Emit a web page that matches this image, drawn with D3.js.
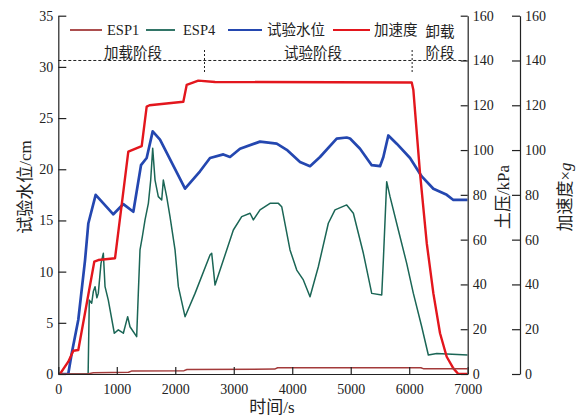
<!DOCTYPE html>
<html>
<head>
<meta charset="utf-8">
<script src="https://cdn.jsdelivr.net/npm/d3@7"></script>
<style>
  body { margin: 0; background: #fff; }
  svg text { font-family: "Liberation Serif", "Noto Sans CJK SC", serif; fill: #222; }
  .axis path, .axis line { stroke: #222; stroke-width: 1.2; }
  .axis text { font-size: 14px; }
</style>
</head>
<body>
<div id="chart"></div>
<script>
// values, [time s, value]
var esp1 = [[0,0],[500,0],[600,0.6],[1200,0.8],[1250,1.3],[2150,1.5],[2200,2.0],[3700,2.2],[3750,2.8],[6200,2.8],[6250,2.3],[7000,2.3]];

var esp4 = [[0,0],[510,0],[530,33],[571,31.6],[600,37],[628,39],[660,34],[684,36],[730,49.4],[770,53.9],[799,39],[855,33],
  [958,18.2],[1026,19.7],[1112,18.2],[1186,25.6],[1226,21.1],[1340,16.7],[1368,36],[1397,55.4],[1437,61.3],[1483,68.8],
  [1540,76.2],[1580,86.6],[1614,100.8],[1654,86.6],[1710,79.2],[1768,77.7],[1796,86.6],[1853,79.2],[1910,70.3],[1996,55.4],
  [2053,39],[2167,25.6],[2338,36],
  [2594,53.1],[2623,53.9],[2680,39.7],[2993,64.3],[3136,70.3],[3279,71.8],[3335,68.8],[3449,73.3],[3620,76.2],[3763,76.2],
  [3820,74.7],[3962,55.4],[4077,46.4],[4190,42],[4304,34.5],[4446,47.9],[4617,67.3],[4731,73.3],[4931,75.5],[5045,71.8],
  [5216,53.9],[5359,36],[5530,35.3],[5558,50.9],[5615,85.9],[5672,79.2],[5814,64.3],[5957,49.4],[6071,36],[6214,21.1],
  [6327,8.5],[6471,9.2],[7000,8.5]];

var waterLevel = [[0,0],[170,0],[229,2.0],[342,5.3],[457,11.1],[513,14.7],[639,17.5],[941,15.6],[1112,16.6],[1283,15.85],
  [1414,20.4],[1511,21.1],[1614,23.7],[1739,22.9],[2167,18.1],[2423,19.8],[2594,21.1],[2822,21.45],[2936,21.2],[3107,22.0],
  [3449,22.7],[3735,22.5],[3906,21.9],[4133,20.7],[4304,20.3],[4475,21.2],[4760,23.0],[4931,23.1],[4988,23.0],[5159,22.0],
  [5359,20.4],[5501,20.3],[5558,21.2],[5643,23.3],[5786,22.5],[6014,21.1],[6214,19.3],[6413,18.1],[6642,17.5],[6755,17.0],[7000,17.0]];

var accel = [[0,0],[29,0],[171,5.5],[257,10.4],[342,10.7],[616,50.2],[684,50.9],[970,51.7],[1197,99.3],[1426,101.8],
  [1511,119.4],[1560,120],[2138,121.6],[2195,129.1],[2394,131],[2680,130.4],[6043,130.2],[6071,126.8],[6185,89.6],
  [6300,58.4],[6413,36],[6527,18.2],[6641,7.7],[6755,2.5],[6840,0],[7000,0]];

var timeTicks = [0,1000,2000,3000,4000,5000,6000,7000];
var waterTicks = [0,5,10,15,20,25,30,35];
var kpaTicks = [0,20,40,60,80,100,120,140,160];

var legendItems = [
  { name: "ESP1", color: "#a33a3a" },
  { name: "ESP4", color: "#1b6656" },
  { name: "试验水位", color: "#2447b0" },
  { name: "加速度", color: "#e3161d" }
];

var width = 583, height = 418;
var plotL = 58.3, plotR = 467.7, plotT = 15.7, plotB = 374;

var svg = d3.select("#chart").append("svg")
    .attr("width", width)
    .attr("height", height);

var x = d3.scaleLinear().domain([0, 7000]).range([plotL, plotR]);
var yWater = d3.scaleLinear().domain([0, 35]).range([plotB, plotT]);
var yKpa = d3.scaleLinear().domain([0, 160]).range([plotB, plotT]);
var yAcc = d3.scaleLinear().domain([0, 160]).range([plotB, plotT]);

svg.append("clipPath").attr("id", "plot")
  .append("rect").attr("x", plotL).attr("y", plotT).attr("width", plotR - plotL).attr("height", plotB - plotT);

function drawLine(data, yScale, color, w) {
  svg.append("path")
      .datum(data)
      .attr("clip-path", "url(#plot)")
      .attr("fill", "none")
      .attr("stroke", color)
      .attr("stroke-width", w)
      .attr("stroke-linejoin", "round")
      .attr("d", d3.line().x(function(d) { return x(d[0]); }).y(function(d) { return yScale(d[1]); }));
}

drawLine(esp4, yKpa, legendItems[1].color, 1.5);
drawLine(waterLevel, yWater, legendItems[2].color, 2.7);
drawLine(accel, yAcc, legendItems[3].color, 2.4);
drawLine(esp1, yKpa, legendItems[0].color, 1.5);

// stage separators
svg.append("line")
    .attr("x1", plotL).attr("x2", plotR)
    .attr("y1", yKpa(140)).attr("y2", yKpa(140))
    .attr("stroke", "#222").attr("stroke-dasharray", "3,2");
[2500, 6050].forEach(function(t) {
  svg.append("line")
      .attr("x1", x(t)).attr("x2", x(t))
      .attr("y1", 50).attr("y2", 72)
      .attr("stroke", "#222").attr("stroke-dasharray", "2,2");
});
svg.append("text").attr("x", 133).attr("y", 58).attr("text-anchor", "middle").style("font-size", "14.5px").text("加载阶段");
svg.append("text").attr("x", 313).attr("y", 58).attr("text-anchor", "middle").style("font-size", "14.5px").text("试验阶段");
svg.append("text").attr("x", 440).attr("y", 37).attr("text-anchor", "middle").style("font-size", "14.5px").text("卸载");
svg.append("text").attr("x", 440).attr("y", 58).attr("text-anchor", "middle").style("font-size", "14.5px").text("阶段");

// axes
svg.append("g").attr("class", "axis")
    .attr("transform", "translate(0," + plotB + ")")
    .call(d3.axisBottom(x).tickValues(timeTicks).tickSizeInner(-7).tickSizeOuter(0).tickPadding(10).tickFormat(d3.format("d")));

svg.append("g").attr("class", "axis")
    .attr("transform", "translate(" + plotL + ",0)")
    .call(d3.axisLeft(yWater).tickValues(waterTicks).tickSizeInner(-8).tickSizeOuter(0).tickPadding(5));

svg.append("g").attr("class", "axis")
    .attr("transform", "translate(" + plotR + ",0)")
    .call(d3.axisRight(yKpa).tickValues(kpaTicks).tickSizeInner(-7).tickSizeOuter(0).tickPadding(5));

svg.append("g").attr("class", "axis")
    .attr("transform", "translate(520,0)")
    .call(d3.axisRight(yAcc).tickValues(kpaTicks).tickSizeInner(-8).tickSizeOuter(0).tickPadding(5));

// axis titles
svg.append("text")
    .attr("transform", "translate(31,187) rotate(-90)")
    .attr("text-anchor", "middle").style("font-size", "17px")
    .text("试验水位/cm");
svg.append("text")
    .attr("transform", "translate(509,197) rotate(-90)")
    .attr("text-anchor", "middle").style("font-size", "17px")
    .text("土压/kPa");
var accTitle = svg.append("text")
    .attr("transform", "translate(571,197) rotate(-90)")
    .attr("text-anchor", "middle").style("font-size", "17px");
accTitle.append("tspan").text("加速度×");
accTitle.append("tspan").style("font-style", "italic").text("g");
svg.append("text")
    .attr("x", 272).attr("y", 413)
    .attr("text-anchor", "middle").style("font-size", "17px")
    .text("时间/s");

// legend
var legendX = [[70, 102, 107], [146, 175, 183], [228, 262, 267], [333, 370, 374]];
legendItems.forEach(function(d, i) {
  svg.append("line")
      .attr("x1", legendX[i][0]).attr("x2", legendX[i][1])
      .attr("y1", 30).attr("y2", 30)
      .attr("stroke", d.color).attr("stroke-width", 1.8);
  svg.append("text")
      .attr("x", legendX[i][2]).attr("y", 35)
      .style("font-size", "14.5px")
      .text(d.name);
});
</script>
</body>
</html>
